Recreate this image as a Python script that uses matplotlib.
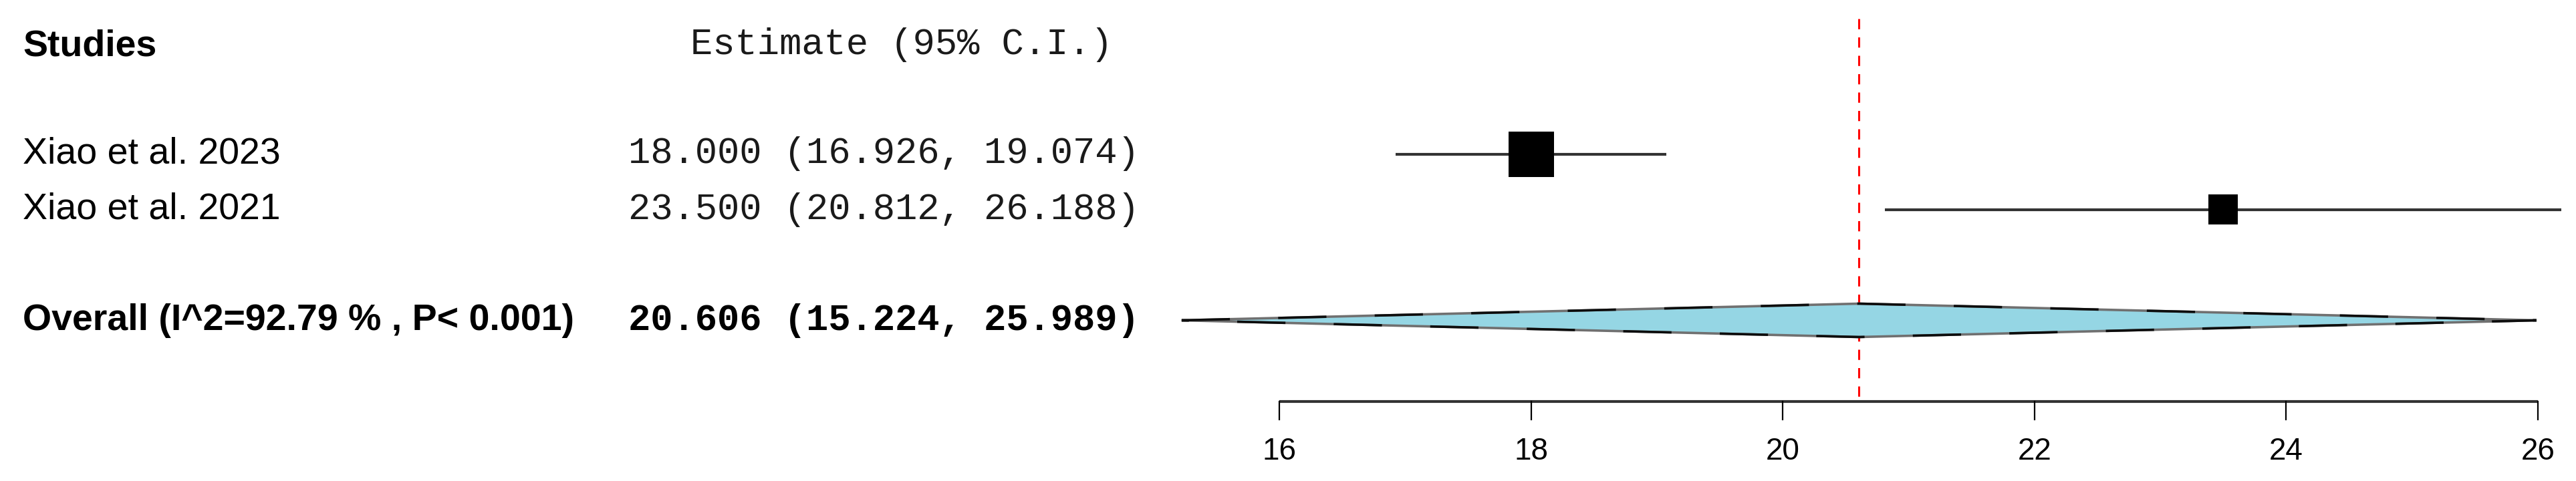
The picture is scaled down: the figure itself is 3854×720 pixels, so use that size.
import matplotlib
matplotlib.use("Agg")
import matplotlib.pyplot as plt
from matplotlib.patches import Polygon, Rectangle

# data
studies = ["Xiao et al. 2023", "Xiao et al. 2021"]
est = [18.000, 23.500]
lower = [16.926, 20.812]
upper = [19.074, 26.188]
weights = [60.7, 39.3]  # relative weights (box size)
overall_label = "Overall (I^2=92.79 % , P< 0.001)"
overall = [20.606, 15.224, 25.989]
xticks = [16, 18, 20, 22, 24, 26]

SANS = "Liberation Sans"
MONO = "Liberation Mono"

W, H, DPI = 3854, 720, 100
fig = plt.figure(figsize=(W / DPI, H / DPI), dpi=DPI)
ax = fig.add_axes([0, 0, 1, 1])
ax.axis("off")

# x: data units (px per unit ~188.3, 16 at px 1914); y: row units
ppu = 188.3
x0 = 16 - 1914 / ppu
ax.set_xlim(x0, x0 + W / ppu)
row_px = 83.0
top_px = 64.5
ax.set_ylim((H - top_px) / row_px, -top_px / row_px)

def fx(px):
    return px / W

def ry(px):
    return (px - top_px) / row_px

ty = ax.get_yaxis_transform()

# header
ax.text(fx(34), ry(69), "Studies", transform=ty, family=SANS, weight="bold",
        fontsize=40, va="center", ha="left")
ax.text(fx(1033), ry(67), "Estimate (95% C.I.)", transform=ty, family=MONO,
        fontsize=40, va="center", ha="left", color="#1a1a1a")

# studies
rows = [2, 3]
for r, name, e, lo, hi, w in zip(rows, studies, est, lower, upper, weights):
    ax.text(fx(34), r, name, transform=ty, family=SANS, fontsize=40,
            va="center", ha="left")
    ax.text(fx(1705), r, f"{e:.3f} ({lo:.3f}, {hi:.3f})", transform=ty,
            family=MONO, fontsize=40, va="center", ha="right", color="#1a1a1a")
    ax.plot([lo, hi], [r, r], color="#333333", lw=3.0, solid_capstyle="butt")
    side = 68 * w / weights[0]
    bw, bh = side / ppu, side / row_px
    ax.add_patch(Rectangle((e - bw / 2, r - bh / 2), bw, bh,
                           facecolor="black", edgecolor="none", zorder=3))

# overall
r_ov = 5
m, lo, hi = overall
ax.text(fx(34), r_ov, overall_label, transform=ty, family=SANS,
        weight="bold", fontsize=40, va="center", ha="left")
ax.text(fx(1705), r_ov, f"{m:.3f} ({lo:.3f}, {hi:.3f})", transform=ty,
        family=MONO, weight="bold", fontsize=40, va="center", ha="right")
dh = 25 / row_px
diamond = [(lo, r_ov), (m, r_ov - dh), (hi, r_ov), (m, r_ov + dh)]
ax.add_patch(Polygon(diamond, closed=True, facecolor="#95d6e4",
                     edgecolor="#707070", lw=2.6, zorder=2))
ax.add_patch(Polygon(diamond, closed=True, facecolor="none",
                     edgecolor="#0d0d0d", lw=2.6, ls=(0, (20, 20)), zorder=2))

# x axis
r_axis = ry(601)
tick_len = 27 / row_px
ax.plot([xticks[0], xticks[-1]], [r_axis, r_axis], color="#333333", lw=3.0,
        solid_capstyle="butt")
for t in xticks:
    ax.plot([t, t], [r_axis, r_axis + tick_len], color="black", lw=1.6)
    ax.text(t, ry(676), str(t), family=SANS, fontsize=33,
            ha="center", va="center")

# reference line at overall estimate
ax.plot([m, m], [ry(28), r_axis], color="#ff0000", lw=2.2,
        ls=(0, (5, 4)), zorder=1)

fig.savefig("out.png", dpi=DPI)
